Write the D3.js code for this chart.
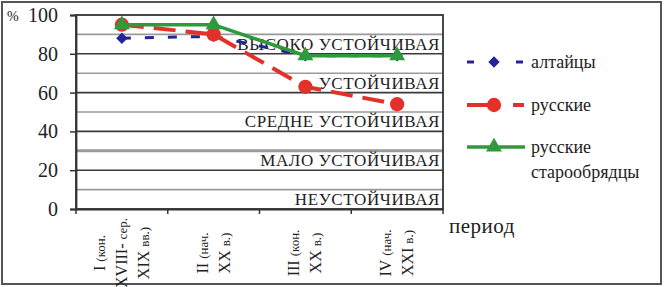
<!DOCTYPE html>
<html lang="ru">
<head>
<meta charset="UTF-8">
<title>Устойчивость</title>
<style>
  body { margin: 0; background: #fff; }
</style>
</head>
<body>
<div id="chart"></div>
<script src="https://d3js.org/d3.v7.min.js"></script>
<script>
// данные
const periods = ["I", "II", "III", "IV"];
const periodLabels = [
  ["I (кон.", "XVIII- сер.", "XIX вв.)"],
  ["II (нач.", "XX в.)"],
  ["III (кон.", "XX в.)"],
  ["IV (нач.", "XXI в.)"]
];
const altai = [88, 89, 79, 79];
const russian = [95, 90, 63, 54];
const oldBelievers = [95, 95, 79, 79];
const yTicks = [0, 20, 40, 60, 80, 100];
const gridLevels = [10, 20, 30, 40, 50, 60, 70, 80, 90];
const zoneNames = ["НЕУСТОЙЧИВАЯ", "МАЛО УСТОЙЧИВАЯ", "СРЕДНЕ УСТОЙЧИВАЯ", "УСТОЙЧИВАЯ", "ВЫСОКО УСТОЙЧИВАЯ"];
const zoneFloors = [0, 20, 40, 60, 80];

const W = 664, H = 287;
const plot = { left: 76, right: 443, top: 15, bottom: 209 };
const FONT = "Liberation Serif, Times New Roman, DejaVu Serif, serif";

const svg = d3.select("#chart").append("svg")
  .attr("width", W).attr("height", H)
  .style("font-family", FONT);

// рамка
svg.append("rect")
  .attr("x", 2).attr("y", 2).attr("width", W - 5).attr("height", H - 5)
  .attr("fill", "#fff").attr("stroke", "#555").attr("stroke-width", 2);

const x = d3.scaleBand().domain(periods).range([plot.left, plot.right]);
const y = d3.scaleLinear().domain([0, 100]).range([plot.bottom, plot.top]);
const cx = p => x(p) + x.bandwidth() / 2;

// сетка
svg.selectAll(".grid").data(gridLevels).enter().append("line")
  .attr("x1", plot.left).attr("x2", plot.right)
  .attr("y1", d => y(d)).attr("y2", d => y(d))
  .attr("stroke", d => d % 20 === 0 ? "#3a3a3a" : "#9a9a9a")
  .attr("stroke-width", d => d === 30 ? 3 : 1.6);

// подписи зон
svg.selectAll(".zone").data(zoneNames).enter().append("text")
  .attr("x", plot.right - 3)
  .attr("y", (d, i) => y(zoneFloors[i]) - 4)
  .attr("text-anchor", "end")
  .attr("font-family", FONT)
  .attr("font-size", 17)
  .attr("letter-spacing", 0.6)
  .attr("fill", "#222")
  .text(d => d);

// рамка области графика
svg.append("rect")
  .attr("x", plot.left).attr("y", plot.top)
  .attr("width", plot.right - plot.left).attr("height", plot.bottom - plot.top)
  .attr("fill", "none").attr("stroke", "#333").attr("stroke-width", 1.8);

// ось Y
const yAxis = svg.append("g")
  .attr("transform", `translate(${plot.left},0)`)
  .call(d3.axisLeft(y).tickValues(yTicks).tickSize(6).tickPadding(12));
yAxis.attr("font-family", FONT);
yAxis.select(".domain").attr("stroke", "#333").attr("stroke-width", 1.8);
yAxis.selectAll(".tick line").attr("stroke", "#333").attr("stroke-width", 1.5);
yAxis.selectAll(".tick text")
  .attr("font-family", FONT).attr("font-size", 20).attr("fill", "#222");
svg.append("text").attr("x", 7).attr("y", y(100) + 6)
  .attr("font-family", FONT).attr("font-size", 14).attr("fill", "#222").text("%");

// ось X
const xAxis = svg.append("g")
  .attr("transform", `translate(0,${plot.bottom})`)
  .call(d3.axisBottom(x).tickValues([]).tickSizeOuter(0));
xAxis.select(".domain").attr("stroke", "#333").attr("stroke-width", 1.8);
svg.selectAll(".xtick").data(periods.concat(["end"])).enter().append("line")
  .attr("x1", (d, i) => plot.left + i * x.bandwidth())
  .attr("x2", (d, i) => plot.left + i * x.bandwidth())
  .attr("y1", plot.bottom).attr("y2", plot.bottom + 5)
  .attr("stroke", "#333").attr("stroke-width", 1.5);

// подписи категорий (повернуты)
periods.forEach((p, i) => {
  const lines = periodLabels[i];
  const gap = 22;
  lines.forEach((ln, j) => {
    const px = cx(p) + (j - (lines.length - 1) / 2) * gap;
    const cut = ln.indexOf(" ");
    const t = svg.append("text")
      .attr("transform", `translate(${px + 5},253) rotate(-90)`)
      .attr("text-anchor", "middle")
      .attr("font-family", FONT)
      .attr("fill", "#222");
    t.append("tspan").attr("font-size", 16).text(ln.slice(0, cut + 1));
    t.append("tspan").attr("font-size", 13).text(ln.slice(cut + 1));
  });
});

svg.append("text").attr("x", 449).attr("y", 233)
  .attr("font-family", FONT).attr("font-size", 21).attr("letter-spacing", 0.5)
  .attr("fill", "#222").text("период");

// серии
const line = d3.line().x((d, i) => cx(periods[i])).y(d => y(d));
const series = [
  { name: "алтайцы", data: altai, color: "#23239a", width: 3, dash: "9,14", mark: "diamond" },
  { name: "русские", data: russian, color: "#e4302a", width: 4, dash: "22,10", mark: "circle" },
  { name: "русские старообрядцы", data: oldBelievers, color: "#2f9a3c", width: 3.5, dash: null, mark: "triangle" }
];
const symbolFor = m => m === "diamond" ? d3.symbolSquare : m === "circle" ? d3.symbolCircle : d3.symbolTriangle;
const sizeFor = m => m === "diamond" ? 64 : m === "circle" ? 160 : 110;
const rotFor = m => m === "diamond" ? 45 : 0;

series.forEach(s => {
  svg.append("path").datum(s.data)
    .attr("d", line)
    .attr("fill", "none")
    .attr("stroke", s.color)
    .attr("stroke-width", s.width)
    .attr("stroke-dasharray", s.dash);
  svg.selectAll(null).data(s.data).enter().append("path")
    .attr("transform", (d, i) => `translate(${cx(periods[i])},${y(d)}) rotate(${rotFor(s.mark)})`)
    .attr("d", d3.symbol().type(symbolFor(s.mark)).size(sizeFor(s.mark)))
    .attr("fill", s.color);
});

// легенда
const legendY = [62, 105, 147];
series.forEach((s, i) => {
  const ly = legendY[i];
  const g = svg.append("g");
  if (s.mark === "diamond") {
    g.append("line").attr("x1", 467).attr("x2", 474).attr("y1", ly).attr("y2", ly)
      .attr("stroke", s.color).attr("stroke-width", s.width);
    g.append("line").attr("x1", 516).attr("x2", 523).attr("y1", ly).attr("y2", ly)
      .attr("stroke", s.color).attr("stroke-width", s.width);
  } else if (s.mark === "circle") {
    g.append("line").attr("x1", 467).attr("x2", 492).attr("y1", ly).attr("y2", ly)
      .attr("stroke", s.color).attr("stroke-width", s.width);
    g.append("line").attr("x1", 513).attr("x2", 524).attr("y1", ly).attr("y2", ly)
      .attr("stroke", s.color).attr("stroke-width", s.width);
  } else {
    g.append("line").attr("x1", 467).attr("x2", 525).attr("y1", ly).attr("y2", ly)
      .attr("stroke", s.color).attr("stroke-width", s.width);
  }
  g.append("path")
    .attr("transform", `translate(494,${ly}) rotate(${rotFor(s.mark)})`)
    .attr("d", d3.symbol().type(symbolFor(s.mark)).size(sizeFor(s.mark)))
    .attr("fill", s.color);
  const words = s.name === "русские старообрядцы" ? ["русские", "старообрядцы"] : [s.name];
  words.forEach((w, k) => {
    g.append("text").attr("x", 531).attr("y", ly + 6 + k * 25)
      .attr("font-family", FONT).attr("font-size", 18).attr("fill", "#222").text(w);
  });
});
</script>
</body>
</html>
